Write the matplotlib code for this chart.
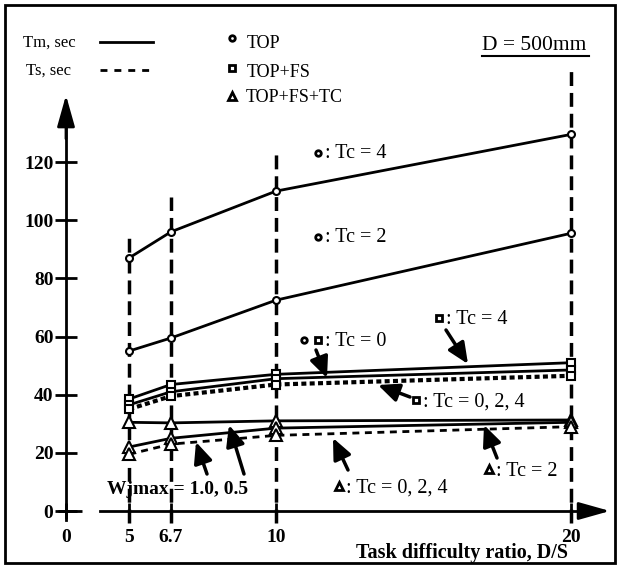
import numpy as np
import matplotlib
matplotlib.use('Agg')
import matplotlib.pyplot as plt
from matplotlib.lines import Line2D
from matplotlib.patches import Rectangle

plt.rcParams['font.family'] = ['Liberation Serif', 'DejaVu Serif']

# ---- data (D = 500mm) ----
ds_ratio = [5, 6.7, 10, 20]
top_tc4 = [87, 96, 110, 129.5]        # TOP, Tm, Tc = 4
top_tc2 = [55, 59.5, 72.5, 95.5]      # TOP, Tm, Tc = 2
fs_tc4 = [38.5, 43.5, 47, 51]         # TOP+FS, Tm, Tc = 4
tc0 = [36.5, 41, 45.5, 48.5]          # TOP / TOP+FS, Tm, Tc = 0
fs_ts = [35, 39.5, 43.5, 46.5]        # TOP+FS, Ts, Tc = 0,2,4
tc_tc2 = [30.5, 30.3, 31, 31.3]       # TOP+FS+TC, Tm, Tc = 2
tc_tm = [22, 25, 28.5, 30.5]          # TOP+FS+TC, Tm, Tc = 0,2,4
tc_ts = [19.5, 23, 26, 29]            # TOP+FS+TC, Ts
guide_top = [95, 108, 123.5, 153]     # how far the dashed guides go up

xticks = [0, 5, 6.7, 10, 20]
xtick_labels = ['0', '5', '6.7', '10', '20']
yticks = [0, 20, 40, 60, 80, 100, 120]

W, H = 619, 568

# x axis is drawn with a break after 0 and is not quite to scale
knot_val = [-10, 0, 5, 6.7, 10, 20, 30]
knot_px = [-60, 66, 129, 171, 276, 571, 866]


def fwd(x):
    return np.interp(x, knot_val, knot_px)


def inv(p):
    return np.interp(p, knot_px, knot_val)


def fp(x, y):
    # image pixel (from top-left) -> figure fraction
    return x / W, 1 - y / H


fig = plt.figure(figsize=(W / 100, H / 100), dpi=100)
ax = fig.add_axes([0, 0, 1, 1])
ax.set_xscale('function', functions=(fwd, inv))
ax.set_xlim(inv(0), inv(W))
y0_px, px_unit = 511, 2.908
ax.set_ylim((y0_px - H) / px_unit, y0_px / px_unit)

# axes
for s in ['top', 'right']:
    ax.spines[s].set_visible(False)
ax.spines['left'].set_position(('data', 0))
ax.spines['left'].set_bounds(-3, 132)
ax.spines['left'].set_linewidth(2)
ax.spines['bottom'].set_position(('data', 0))
ax.spines['bottom'].set_bounds(2.7, 20.6)
ax.spines['bottom'].set_linewidth(2)
ax.plot([-0.63, 1.27], [0, 0], color='k', lw=2, solid_capstyle='butt', clip_on=False)
ax.annotate('', xy=(0, 143), xytext=(0, 128),
            arrowprops=dict(arrowstyle='-|>,head_length=1.6,head_width=0.45',
                            mutation_scale=12, lw=2, color='k', shrinkA=0, shrinkB=0))
ax.annotate('', xy=(21.32, 0), xytext=(20.3, 0),
            arrowprops=dict(arrowstyle='-|>,head_length=1.6,head_width=0.45',
                            mutation_scale=12, lw=2, color='k', shrinkA=0, shrinkB=0))

ax.set_yticks(yticks)
ax.set_yticklabels([str(v) for v in yticks], fontweight='bold')
ax.tick_params(axis='y', direction='inout', length=16, width=2, pad=1, labelsize=14)
ax.set_xticks(xticks)
ax.set_xticklabels(xtick_labels, fontweight='bold')
ax.tick_params(axis='x', direction='inout', length=12, width=2, pad=7, labelsize=14)
ax.minorticks_off()

# dashed guides at each D/S
for x, top in zip(ds_ratio, guide_top):
    ax.plot([x, x], [-4, top], color='k', lw=2.5, dashes=(4, 2), zorder=1)

# series
mk = dict(mfc='white', mec='k', mew=1.5)
ax.plot(ds_ratio, top_tc4, color='k', lw=2, marker='o', ms=5, **mk)
ax.plot(ds_ratio, top_tc2, color='k', lw=2, marker='o', ms=5, **mk)
ax.plot(ds_ratio, fs_tc4, color='k', lw=2, marker='s', ms=6, **mk)
ax.plot(ds_ratio, tc0, color='k', lw=2, marker='s', ms=6, **mk)
ax.plot(ds_ratio, fs_ts, color='k', lw=3, dashes=(1.2, 0.8), marker='s', ms=6, **mk)
ax.plot(ds_ratio, tc_tc2, color='k', lw=2, marker='^', ms=8, **mk)
ax.plot(ds_ratio, tc_tm, color='k', lw=2, marker='^', ms=8, **mk)
ax.plot(ds_ratio, tc_ts, color='k', lw=2, dashes=(2.5, 2), marker='^', ms=8, **mk)

fig.text(*fp(462, 553), 'Task difficulty ratio, D/S', ha='center', va='center',
         fontsize=14.5, fontweight='bold')

# legend block drawn by hand as in the original
tsize = 13
fig.text(*fp(23, 43), 'Tm, sec', ha='left', va='center', fontsize=12)
fig.text(*fp(26, 71), 'Ts, sec', ha='left', va='center', fontsize=12)
fig.add_artist(Line2D([100 / W, 153 / W], [1 - 42 / H] * 2, color='k', lw=2,
                      transform=fig.transFigure))
fig.add_artist(Line2D([100 / W, 150 / W], [1 - 70 / H] * 2, color='k', lw=2,
                      dashes=(2.5, 2.5), transform=fig.transFigure))


def marker_at(x, y, m, size):
    fig.add_artist(Line2D([x / W], [1 - y / H], marker=m, ms=size, mfc='white',
                          mec='k', mew=2, ls='none', transform=fig.transFigure))


marker_at(232, 38, 'o', 4)
fig.text(*fp(247, 44), 'TOP', ha='left', va='center', fontsize=tsize)
marker_at(232, 68, 's', 5)
fig.text(*fp(247, 72), 'TOP+FS', ha='left', va='center', fontsize=tsize)
marker_at(232, 96, '^', 6)
fig.text(*fp(246, 98), 'TOP+FS+TC', ha='left', va='center', fontsize=tsize)

fig.text(*fp(482, 46), 'D = 500mm', ha='left', va='center', fontsize=15.5)
fig.add_artist(Line2D([482 / W, 589 / W], [1 - 56 / H] * 2, color='k', lw=1.5,
                      transform=fig.transFigure))

# labels on the curves
lsize = 14.5
marker_at(318, 153, 'o', 4)
fig.text(*fp(325, 154), ': Tc = 4', ha='left', va='center', fontsize=lsize)
marker_at(318, 237, 'o', 4)
fig.text(*fp(325, 238), ': Tc = 2', ha='left', va='center', fontsize=lsize)
marker_at(304, 340, 'o', 4)
marker_at(318, 340, 's', 5)
fig.text(*fp(325, 341), ': Tc = 0', ha='left', va='center', fontsize=lsize)
marker_at(439, 318, 's', 5)
fig.text(*fp(446, 320), ': Tc = 4', ha='left', va='center', fontsize=lsize)
marker_at(416, 400, 's', 5)
fig.text(*fp(423, 402), ': Tc = 0, 2, 4', ha='left', va='center', fontsize=lsize)
marker_at(489, 469, '^', 6)
fig.text(*fp(496, 472), ': Tc = 2', ha='left', va='center', fontsize=lsize)
marker_at(339, 486, '^', 6)
fig.text(*fp(346, 488), ': Tc = 0, 2, 4', ha='left', va='center', fontsize=lsize)
fig.text(*fp(107, 489), 'Wjmax = 1.0, 0.5', ha='left', va='center', fontsize=14,
         fontweight='bold')

arrows = [((446, 330), (468, 364)),
          ((316, 350), (327, 378)),
          ((410, 397), (378, 385)),
          ((497, 458), (484, 425)),
          ((348, 470), (333, 438)),
          ((207, 474), (196, 442)),
          ((244, 474), (229, 425))]
for tail, tip in arrows:
    ax.annotate('', xy=(tip[0], H - tip[1]), xytext=(tail[0], H - tail[1]),
                xycoords='figure pixels', textcoords='figure pixels',
                arrowprops=dict(arrowstyle='-|>,head_length=0.9,head_width=0.4',
                                mutation_scale=14, lw=2.5, color='k',
                                shrinkA=0, shrinkB=0))

# frame round the whole figure
fig.add_artist(Rectangle((5 / W, 1 - 563 / H), 610 / W, 558 / H, fill=False,
                         lw=2, ec='k', transform=fig.transFigure))

fig.savefig('out.png', dpi=100)
